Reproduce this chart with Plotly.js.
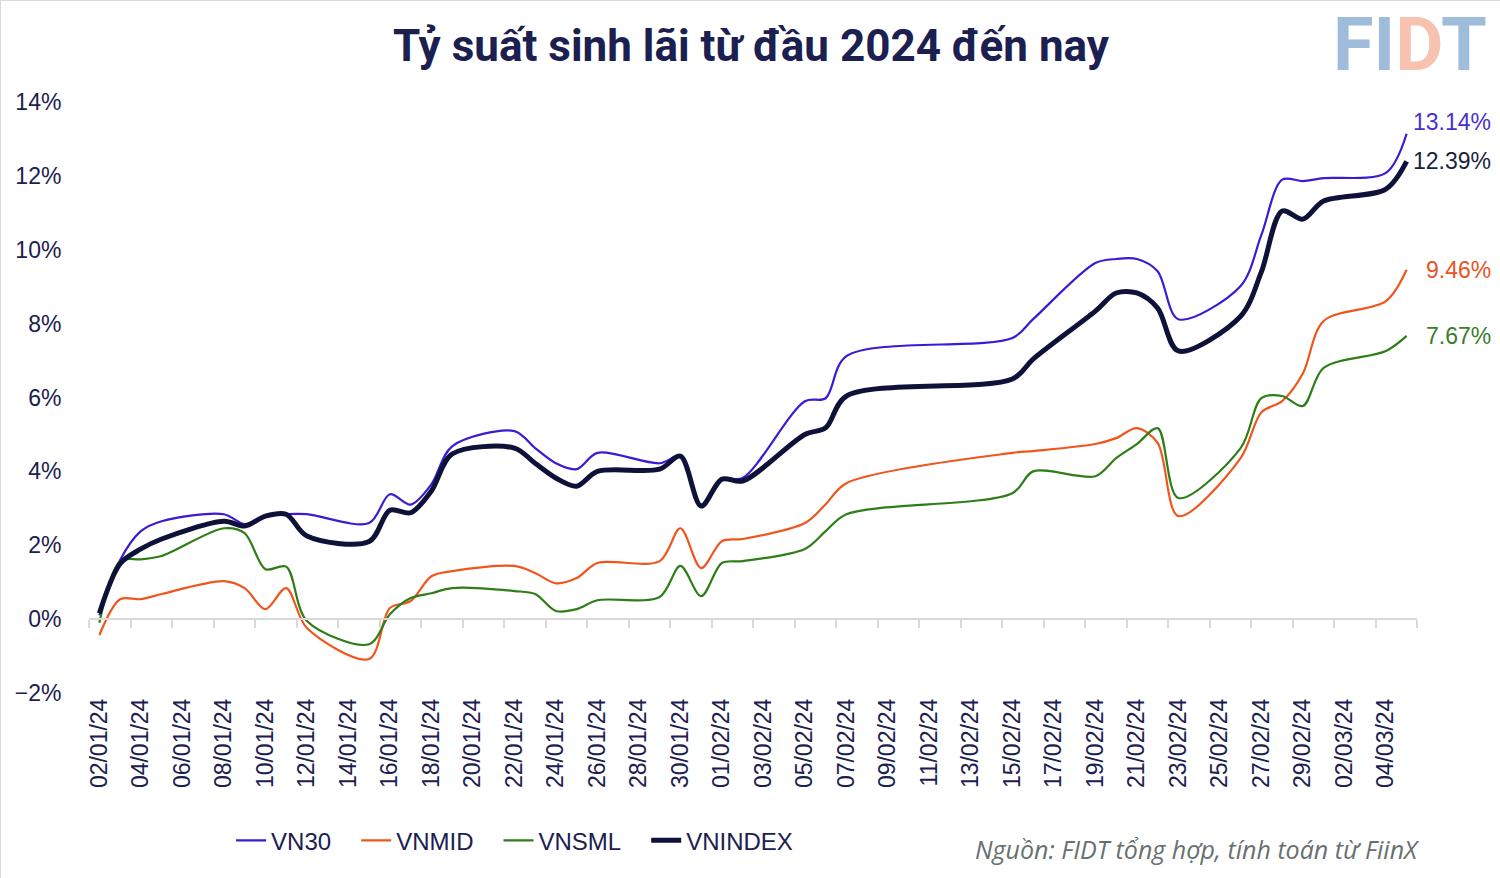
<!DOCTYPE html>
<html>
<head>
<meta charset="utf-8">
<script src="https://cdn.plot.ly/plotly-3.0.1.min.js"></script>
<style>
  html, body { margin: 0; padding: 0; background: #ffffff; }
  #chart { width: 1500px; height: 878px; box-sizing: border-box; border: 1px solid #d6dcdc; }
</style>
</head>
<body>
<div id="chart"></div>
<script>
const dates = ['2024-01-02','2024-01-03','2024-01-04','2024-01-05','2024-01-08','2024-01-09','2024-01-10','2024-01-11','2024-01-12',
  '2024-01-15','2024-01-16','2024-01-17','2024-01-18','2024-01-19',
  '2024-01-22','2024-01-23','2024-01-24','2024-01-25','2024-01-26',
  '2024-01-29','2024-01-30','2024-01-31','2024-02-01','2024-02-02',
  '2024-02-05','2024-02-06','2024-02-07',
  '2024-02-15','2024-02-16',
  '2024-02-19','2024-02-20','2024-02-21','2024-02-22','2024-02-23',
  '2024-02-26','2024-02-27','2024-02-28','2024-02-29','2024-03-01',
  '2024-03-04','2024-03-05'];

const vn30 = [0.10,1.60,2.38,2.65,2.84,2.57,2.79,2.84,2.84,
  2.60,3.38,3.10,3.65,4.68,
  5.09,4.63,4.22,4.06,4.50,
  4.22,4.41,3.10,3.80,3.82,
  5.90,5.98,7.12,
  7.61,8.12,
  9.64,9.75,9.75,9.42,8.12,
  9.02,10.40,11.90,11.86,11.94,
  12.08,13.14];

const vnmid = [-0.43,0.54,0.54,0.68,1.03,0.84,0.27,0.84,-0.24,
  -1.08,0.30,0.49,1.16,1.30,
  1.44,1.25,0.97,1.11,1.52,
  1.57,2.46,1.38,2.11,2.17,
  2.60,3.11,3.68,
  4.50,4.55,
  4.74,4.90,5.17,4.77,2.79,
  4.36,5.60,5.90,6.65,8.07,
  8.61,9.46];

const vnsml = [-0.10,1.57,1.62,1.71,2.46,2.33,1.35,1.42,-0.05,
  -0.68,0.13,0.57,0.70,0.84,
  0.76,0.68,0.22,0.27,0.51,
  0.60,1.44,0.62,1.52,1.57,
  1.90,2.38,2.84,
  3.41,4.00,
  3.87,4.36,4.74,5.17,3.28,
  4.63,5.98,6.04,5.77,6.80,
  7.26,7.67];

const vnindex = [0.16,1.50,1.90,2.17,2.65,2.52,2.79,2.84,2.25,
  2.10,2.95,2.88,3.47,4.47,
  4.63,4.22,3.82,3.60,4.00,
  4.06,4.41,3.06,3.79,3.74,
  5.00,5.18,6.04,
  6.50,7.04,
  8.34,8.83,8.83,8.42,7.26,
  8.20,9.40,11.05,10.83,11.32,
  11.64,12.39];

const seriesNames = ['VN30','VNMID','VNSML','VNINDEX'];
const seriesValues = [vn30, vnmid, vnsml, vnindex];
const seriesColors = ['#3b1ad6','#f0561c','#2f7d18','#0e1238'];
const labelColors = ['#4a2fd0','#e8541f','#3b7d2a','#1a1f3d'];
const seriesWidths = [2.2, 2.2, 2.2, 5];
const labelYShift = [12, 0, 0, 0];
const legendPad = '\u00a0\u00a0\u00a0';

const navy = '#1b2050';
const traces = [];
seriesNames.forEach((n, i) => {
  traces.push({
    type: 'scatter', mode: 'lines', name: n + legendPad,
    x: dates, y: seriesValues[i],
    line: { color: seriesColors[i], width: seriesWidths[i], shape: 'spline', smoothing: 0.9 },
    hoverinfo: 'skip'
  });
});
// invisible helper trace on the tick-mark axis
traces.push({
  type: 'scatter', mode: 'lines', x: dates, y: vnindex, xaxis: 'x2',
  line: { width: 0 }, opacity: 0, showlegend: false, hoverinfo: 'skip'
});

const annotations = seriesNames.map((n, i) => {
  const vals = seriesValues[i];
  const last = vals[vals.length - 1];
  return {
    x: dates[dates.length - 1], y: last, xref: 'x', yref: 'y',
    text: last.toFixed(2) + '%', showarrow: false,
    xanchor: 'right', yanchor: 'middle', xshift: 86, yshift: labelYShift[i],
    font: { family: 'Arial, Liberation Sans, sans-serif', size: 23, color: labelColors[i] }
  };
});
annotations.push({
  xref: 'paper', yref: 'paper', x: 1.004, y: -0.264, xanchor: 'right', yanchor: 'middle',
  text: '<i>Nguồn: FIDT tổng hợp, tính toán từ FiinX</i>', showarrow: false,
  font: { family: 'Open Sans, sans-serif', size: 25, color: '#66706f' }
});
annotations.push({
  xref: 'paper', yref: 'paper', x: 1.054, y: 1.097, xanchor: 'right', yanchor: 'middle',
  text: '<b><span style="color:#9fbcdb">FI</span><span style="color:#f7c3b0">D</span><span style="color:#9fbcdb">T</span></b>',
  showarrow: false,
  font: { family: 'Roboto, Arial, sans-serif', size: 74, color: '#9fbcdb' }
});

const layout = {
  width: 1500, height: 878,
  paper_bgcolor: '#ffffff', plot_bgcolor: '#ffffff',
  margin: { l: 88, r: 84, t: 101, b: 186 },
  title: {
    text: '<b>Tỷ suất sinh lãi từ đầu 2024 đến nay</b>',
    x: 0.5, xanchor: 'center', y: 0.949, yanchor: 'middle', xref: 'container', yref: 'container',
    font: { family: 'Roboto, Arial, sans-serif', size: 44, color: navy }
  },
  xaxis: {
    type: 'date', range: ['2024-01-01 12:00', '2024-03-05 12:00'],
    tick0: '2024-01-02', dtick: 2 * 86400000, tickformat: '%d/%m/%y',
    tickangle: -90, ticks: '', showgrid: false, zeroline: false, showline: false,
    tickfont: { family: 'Arial, Liberation Sans, sans-serif', size: 23, color: navy },
    fixedrange: true
  },
  xaxis2: {
    type: 'date', overlaying: 'x', matches: 'x', anchor: 'free', position: 0.125,
    range: ['2024-01-01 12:00', '2024-03-05 12:00'],
    tick0: '2024-01-01 12:00', dtick: 2 * 86400000,
    showticklabels: false, ticks: 'outside', ticklen: 8, tickwidth: 2, tickcolor: '#d9d9d9',
    showline: true, linecolor: '#d9d9d9', linewidth: 2, showgrid: false, zeroline: false
  },
  yaxis: {
    range: [-2, 14], dtick: 2, tick0: 0, ticksuffix: '%',
    showgrid: false, zeroline: false, showline: false,
    ticks: 'outside', ticklen: 22, tickcolor: 'rgba(0,0,0,0)',
    tickfont: { family: 'Arial, Liberation Sans, sans-serif', size: 23, color: navy },
    fixedrange: true
  },
  showlegend: true,
  legend: {
    orientation: 'h', x: 0.107, xanchor: 'left', y: -0.25, yanchor: 'middle',
    font: { family: 'Arial, Liberation Sans, sans-serif', size: 24, color: navy },
    tracegroupgap: 0, bgcolor: 'rgba(0,0,0,0)'
  },
  annotations: annotations
};

Plotly.newPlot('chart', traces, layout, { displayModeBar: false, staticPlot: true });
</script>
</body>
</html>
